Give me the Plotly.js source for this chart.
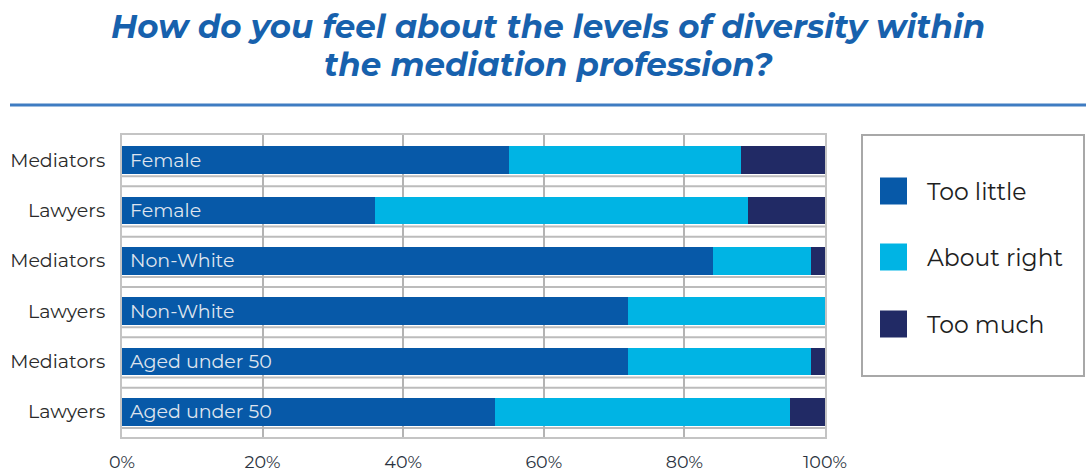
<!DOCTYPE html>
<html>
<head>
<meta charset="utf-8">
<script src="https://cdn.plot.ly/plotly-3.0.1.min.js"></script>
<style>
html,body{margin:0;padding:0;background:#fff;}
#chart{width:1088px;height:475px;}
</style>
</head>
<body>
<div id="chart"></div>
<script>
// ---- data ----
var groups = ['Mediators', 'Lawyers', 'Mediators', 'Lawyers', 'Mediators', 'Lawyers'];
var attributes = ['Female', 'Female', 'Non-White', 'Non-White', 'Aged under 50', 'Aged under 50'];
var tooLittle = [55, 36, 84, 72, 72, 53];
var aboutRight = [33, 53, 14, 28, 26, 42];
var tooMuch = [12, 11, 2, 0, 2, 5];
var seriesNames = ['Too little', 'About right', 'Too much'];
var xTickVals = [0, 20, 40, 60, 80, 100];
var xTickText = ['0%', '20%', '40%', '60%', '80%', '100%'];
var titleLines = ['How do you feel about the levels of diversity within', 'the mediation profession?'];

// ---- styling ----
var colors = ['#0759A8', '#00B4E4', '#212A65'];
var FONT = 'Montserrat, "Open Sans", "DejaVu Sans", sans-serif';
var W = 1088, H = 475;
var mL = 122, mR = 263, mT = 135, mB = 38;
var pw = W - mL - mR, ph = H - mT - mB;
function px(x) { return (x - mL) / pw; }
function py(y) { return (H - mB - y) / ph; }

var rows = groups.map(function (_, i) { return i; });
var values = [tooLittle, aboutRight, tooMuch];

var traces = values.map(function (vals, k) {
  return {
    type: 'bar',
    orientation: 'h',
    name: seriesNames[k],
    x: vals,
    y: rows,
    width: 0.545,
    marker: { color: colors[k], line: { width: 0 } },
    showlegend: false,
    hoverinfo: 'x+name'
  };
});

var shapes = [];
// double horizontal separators between rows
rows.forEach(function (r, i) {
  shapes.push({ type: 'line', layer: 'below', xref: 'paper', yref: 'y', x0: 0, x1: 1, y0: r + 0.32, y1: r + 0.32,
    line: { color: '#bcbcbc', width: 2 } });
  if (i < rows.length - 1) {
    shapes.push({ type: 'line', layer: 'below', xref: 'paper', yref: 'y', x0: 0, x1: 1, y0: r + 0.52, y1: r + 0.52,
      line: { color: '#bcbcbc', width: 2 } });
  }
});
// blue rule under title
shapes.push({ type: 'line', xref: 'paper', yref: 'paper', x0: px(10), x1: px(1086), y0: py(105), y1: py(105),
  line: { color: '#3F7CC2', width: 3 } });
// legend box
shapes.push({ type: 'rect', xref: 'paper', yref: 'paper', x0: px(862), x1: px(1084), y0: py(135), y1: py(376),
  line: { color: '#a8a8a8', width: 2 }, fillcolor: 'rgba(0,0,0,0)' });

var annotations = [];
// title (one annotation per line for tighter line spacing)
var titleY = [26, 64];
titleLines.forEach(function (t, i) {
  annotations.push({ x: px(548), y: py(titleY[i]), xref: 'paper', yref: 'paper', text: t, showarrow: false,
    xanchor: 'center', yanchor: 'middle', align: 'center',
    font: { family: FONT, size: 32.5, color: '#1761AD', weight: 700, style: 'italic' } });
});
// inside-bar labels
rows.forEach(function (r, i) {
  annotations.push({ x: 0, y: r, xref: 'x', yref: 'y', text: attributes[i], showarrow: false,
    xanchor: 'left', yanchor: 'middle', xshift: 6, font: { family: FONT, size: 19, color: '#dfe4ee' } });
});
// legend items
var legY = [191, 257, 324];
seriesNames.forEach(function (n, k) {
  shapes.push({ type: 'rect', xref: 'paper', yref: 'paper', x0: px(880), x1: px(907),
    y0: py(legY[k] + 13.5), y1: py(legY[k] - 13.5), line: { width: 0 }, fillcolor: colors[k] });
  annotations.push({ x: px(925), y: py(legY[k]), xref: 'paper', yref: 'paper', text: n, showarrow: false,
    xanchor: 'left', yanchor: 'middle', font: { family: FONT, size: 23.5, color: '#1e1e1e' } });
});

var layout = {
  width: W, height: H,
  margin: { l: mL, r: mR, t: mT, b: mB, pad: 0 },
  paper_bgcolor: '#ffffff',
  plot_bgcolor: '#ffffff',
  barmode: 'stack',
  bargap: 0,
  showlegend: false,
  xaxis: {
    range: [0, 100],
    tickvals: xTickVals, ticktext: xTickText,
    showgrid: true, gridcolor: '#b4b4b4', gridwidth: 2,
    zeroline: false,
    showline: true, mirror: true, linecolor: '#c4c4c4', linewidth: 2,
    ticks: 'outside', ticklen: 8, tickcolor: 'rgba(0,0,0,0)',
    tickfont: { family: FONT, size: 17.5, color: '#2b3340' },
    fixedrange: true
  },
  yaxis: {
    range: [5.5, -0.5],
    tickvals: rows, ticktext: groups,
    showgrid: false, zeroline: false,
    showline: true, mirror: true, linecolor: '#c4c4c4', linewidth: 2,
    ticks: 'outside', ticklen: 11, tickcolor: 'rgba(0,0,0,0)',
    tickfont: { family: FONT, size: 19, color: '#2a2a2a' },
    fixedrange: true
  },
  shapes: shapes,
  annotations: annotations
};

Plotly.newPlot('chart', traces, layout, { displayModeBar: false, staticPlot: true });
</script>
</body>
</html>
